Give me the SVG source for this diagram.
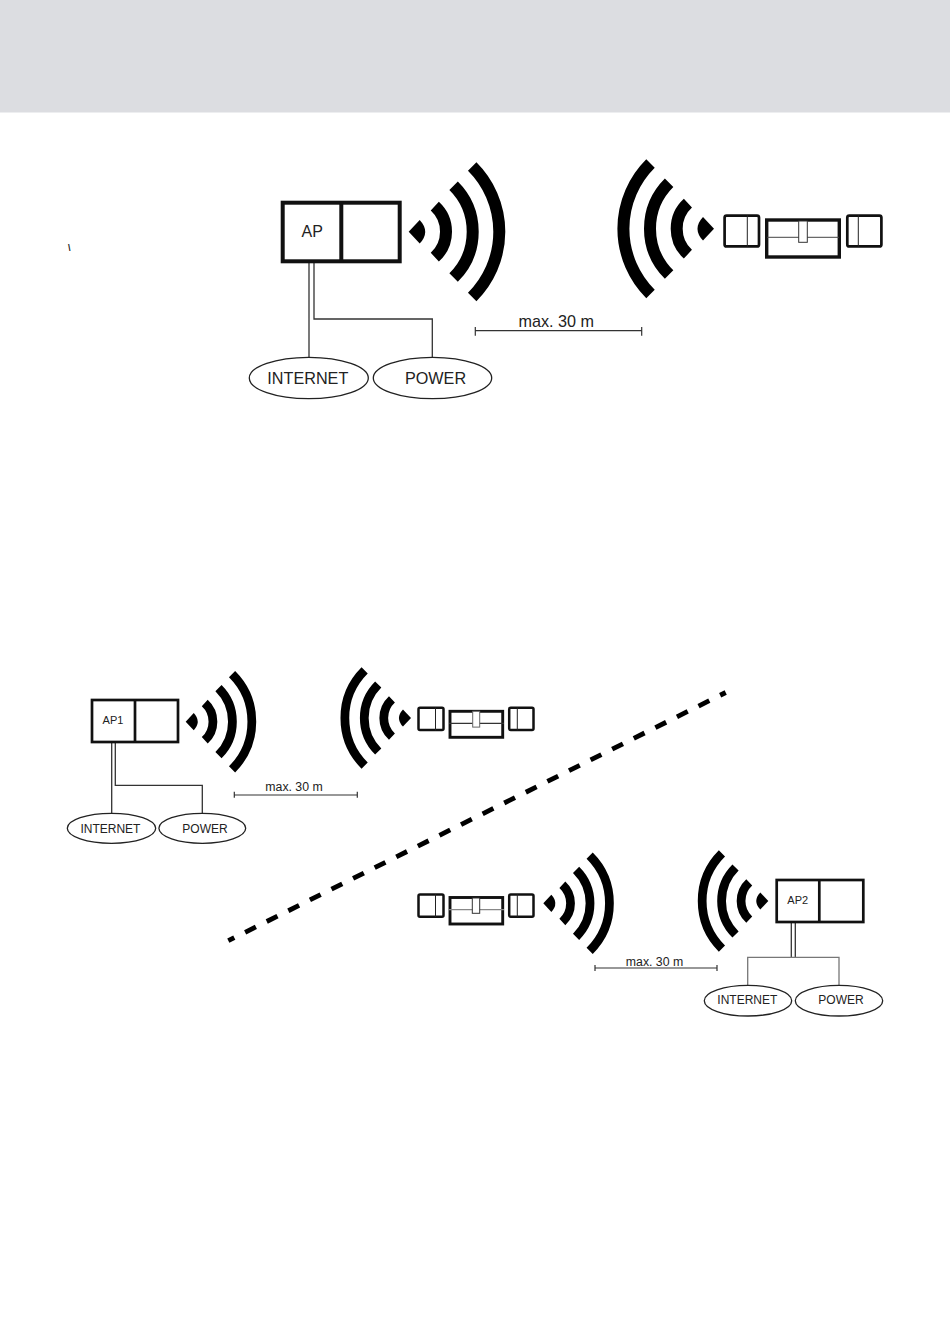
<svg xmlns="http://www.w3.org/2000/svg" xmlns:xlink="http://www.w3.org/1999/xlink" width="950" height="1344" viewBox="0 0 950 1344">
<style>
text{font-family:"Liberation Sans",Arial,sans-serif;fill:#222;text-anchor:middle}
.w{fill:none;stroke:#000;stroke-width:12}
.box{fill:#fff;stroke:#111}
.ln{fill:none;stroke:#333;stroke-width:1.3}
.g{fill:none;stroke:#777;stroke-width:1.3}
.el{fill:#fff;stroke:#222;stroke-width:1.3}
.dim{fill:none;stroke:#333;stroke-width:1.2}
</style>
<defs>
<g id="wave">
<path d="M0 0L11-11.800Q22 0 11 11.800Z" fill="#000"/>
<path class="w" d="M26.100-25.500A34.600 34.600 0 0 1 26.100 25.500"/>
<path class="w" d="M44.900-45.900A64.700 64.700 0 0 1 44.900 45.900"/>
<path class="w" d="M63.500-65.200A92 92 0 0 1 63.500 65.200"/>
</g>
</defs>
<rect width="950" height="112.500" fill="#dcdde1"/>
<text x="69.300" y="250.500" font-size="9" font-weight="bold">\</text>
<g id="connectors">
<path class="ln" d="M309 263V357M314 263V319H432.300V357"/>
<path class="dim" d="M475.300 330.700H641.700M475.300 327V335.700M641.700 327V335.700"/>
<path class="ln" d="M111.700 743V813M115.300 743V785.300H202.300V813"/>
<path class="dim" d="M234.300 795H357.300M234.300 791.700V797.700M357.300 791.700V797.700"/>
<path class="ln" d="M791.300 923V957M795.300 923V957"/>
<path class="g" d="M747.700 985.300V957.300H839V985.300"/>
<path class="dim" d="M595 968H717M595 965V971M717 965V971"/>
<path d="M228.300 940.700L725.700 692.500" fill="none" stroke="#000" stroke-width="4.800" stroke-dasharray="12 12.130" stroke-dashoffset="5.300"/>
</g>
<g id="ap"><rect class="box" x="282.700" y="202.700" width="117" height="58.600" stroke-width="4"/><path d="M341.300 201V263" stroke="#111" stroke-width="4"/><text x="312.200" y="236.700" font-size="16">AP</text></g>
<use id="wave-ap" xlink:href="#wave" href="#wave" transform="translate(408.700 231.700)"/>
<use id="wave-lock" xlink:href="#wave" href="#wave" transform="translate(714 228.700) scale(-1 1)"/>
<g id="lock"><rect x="724.600" y="215.600" width="34.400" height="30.800" rx="2" class="box" stroke-width="2.700"/><path d="M747.300 215V247" stroke="#222"/><rect x="766.700" y="220" width="72.600" height="37" class="box" stroke-width="3.400"/><path d="M767 237.300H839" stroke="#444"/><rect x="798.700" y="221" width="8.600" height="21.300" fill="#fff" stroke="#333"/><rect x="847.300" y="215.600" width="34.100" height="30.800" rx="2" class="box" stroke-width="2.700"/><path d="M858.300 215V247" stroke="#222"/></g>
<g id="internet"><ellipse class="el" cx="308.800" cy="378" rx="59.500" ry="20.700"/><text x="307.800" y="384" font-size="16.200">INTERNET</text></g>
<g id="power"><ellipse class="el" cx="432.500" cy="378" rx="59.200" ry="20.700"/><text x="435.500" y="384" font-size="16.200">POWER</text></g>
<text x="556.300" y="326.700" font-size="16.200">max. 30 m</text>
<g id="ap1"><rect class="box" x="92" y="700" width="86" height="42" stroke-width="2.700"/><path d="M135 699V743" stroke="#111" stroke-width="2.700"/><text x="113" y="724.300" font-size="11">AP1</text></g>
<use id="wave-ap1" xlink:href="#wave" href="#wave" transform="translate(185.700 721.700) scale(.73)"/>
<use id="wave-lock1" xlink:href="#wave" href="#wave" transform="translate(411 718) scale(-.73 .73)"/>
<g id="lock1" transform="translate(0 -186.700)"><rect x="418.500" y="894.500" width="25" height="22.200" rx="1.500" class="box" stroke-width="2.500"/><path d="M435.500 894V917" stroke="#222"/><rect x="450" y="898" width="52.700" height="26" class="box" stroke-width="2.900"/><path d="M449 910H504" stroke="#333" stroke-width="1.200"/><rect x="472.700" y="898" width="7" height="15.800" fill="#fff" stroke="#666"/><rect x="509.200" y="894.500" width="24.300" height="22.200" rx="1.500" class="box" stroke-width="2.500"/><path d="M517.300 894V917" stroke="#222"/></g>
<g id="internet1"><ellipse class="el" cx="111.500" cy="828.300" rx="44.200" ry="15"/><text x="110.400" y="832.700" font-size="12">INTERNET</text></g>
<g id="power1"><ellipse class="el" cx="202.300" cy="828.300" rx="43.400" ry="15"/><text x="205" y="832.700" font-size="12">POWER</text></g>
<text x="294" y="791" font-size="12.300">max. 30 m</text>
<g id="lock2"><rect x="418.500" y="894.500" width="25" height="22.200" rx="1.500" class="box" stroke-width="2.500"/><path d="M435.500 894V917" stroke="#222"/><rect x="450" y="897.500" width="52.700" height="26.500" class="box" stroke-width="2.900"/><path d="M449 909.700H504" stroke="#888" stroke-width="1.200"/><rect x="472.300" y="898" width="7.400" height="15.300" fill="#fff" stroke="#333"/><rect x="509.200" y="894.500" width="24.300" height="22.200" rx="1.500" class="box" stroke-width="2.500"/><path d="M517.300 894V917" stroke="#222"/></g>
<use id="wave-lock2" xlink:href="#wave" href="#wave" transform="translate(543.300 903.300) scale(.73)"/>
<use id="wave-ap2" xlink:href="#wave" href="#wave" transform="translate(768.300 901) scale(-.73 .73)"/>
<g id="ap2"><rect class="box" x="776.700" y="880" width="86.600" height="42" stroke-width="2.700"/><path d="M819.300 879V923" stroke="#111" stroke-width="2.700"/><text x="797.700" y="904.300" font-size="11">AP2</text></g>
<g id="internet2"><ellipse class="el" cx="748" cy="1000.700" rx="43.700" ry="15.300"/><text x="747.300" y="1004.300" font-size="12">INTERNET</text></g>
<g id="power2"><ellipse class="el" cx="839" cy="1000.700" rx="43.700" ry="15.300"/><text x="841" y="1004.300" font-size="12">POWER</text></g>
<text x="654.500" y="966" font-size="12.300">max. 30 m</text>
</svg>
